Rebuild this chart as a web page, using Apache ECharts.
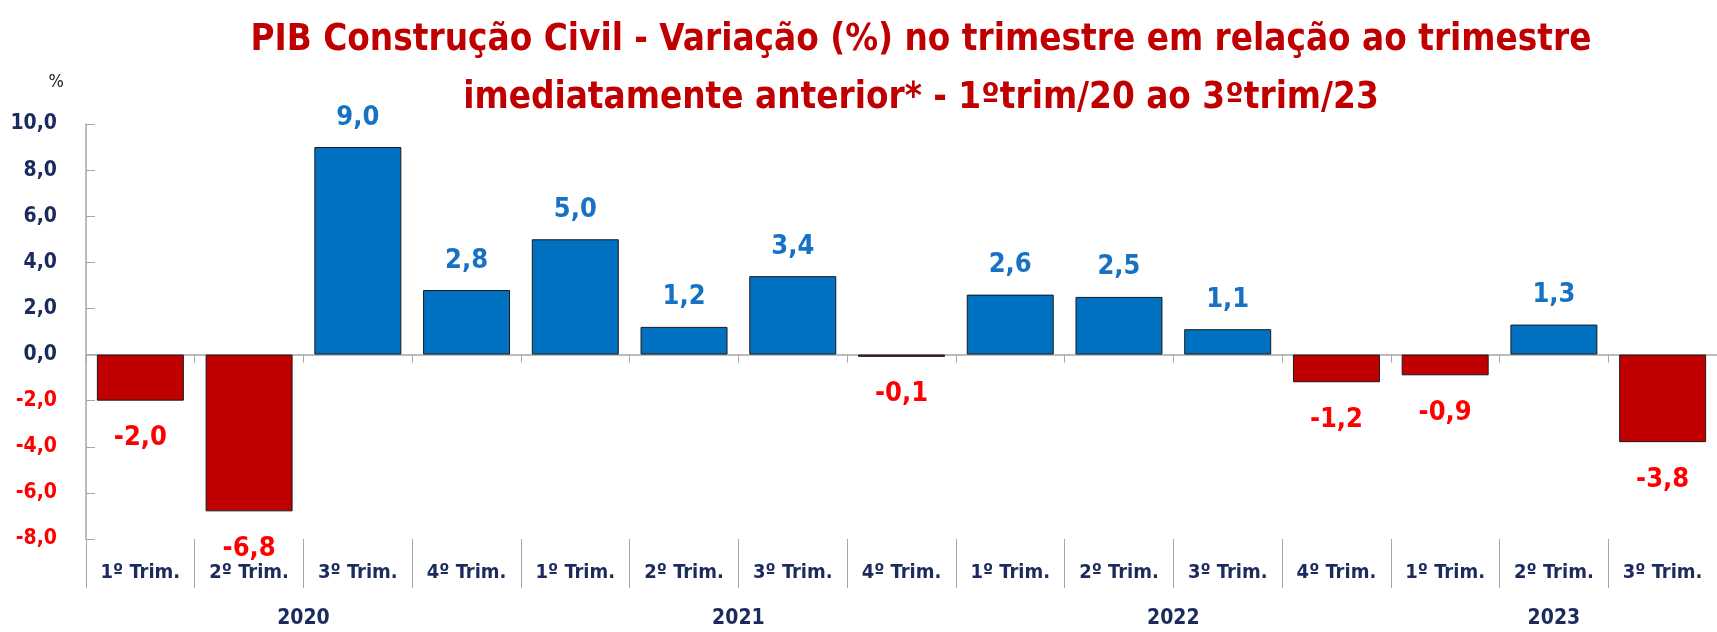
<!DOCTYPE html>
<html>
<head>
<meta charset="utf-8">
<script src="https://cdn.jsdelivr.net/npm/echarts@6/dist/echarts.min.js"></script>
<style>
  html, body { margin: 0; padding: 0; background: #fff; }
  #main { width: 1717px; height: 632px; }
</style>
</head>
<body>
<div id="main"></div>
<script>
// dados
const quarters = ['1º Trim.', '2º Trim.', '3º Trim.', '4º Trim.',
                  '1º Trim.', '2º Trim.', '3º Trim.', '4º Trim.',
                  '1º Trim.', '2º Trim.', '3º Trim.', '4º Trim.',
                  '1º Trim.', '2º Trim.', '3º Trim.'];
const values = [-2.0, -6.8, 9.0, 2.8, 5.0, 1.2, 3.4, -0.1, 2.6, 2.5, 1.1, -1.2, -0.9, 1.3, -3.8];
const years = ['2020', '2021', '2022', '2023'];
const yearSpans = [4, 4, 4, 3];
const titleText = 'PIB Construção Civil - Variação (%) no trimestre em relação ao trimestre\nimediatamente anterior* - 1ºtrim/20 ao 3ºtrim/23';

const FONT = "'Liberation Sans Narrow', 'DejaVu Sans Condensed', 'Arial Narrow', sans-serif";
const NAVY = '#1c2b5e';
const GRAY = '#a6a6a6';

// limites e centros dos anos
let yearStarts = [], yearCenters = [];
let acc = 0;
yearSpans.forEach(n => { yearStarts.push(acc); yearCenters.push(acc + n / 2); acc += n; });

const fmt = v => v.toFixed(1).replace('.', ',');

let chart = echarts.init(document.getElementById('main'));
let option = {
  animation: false,
  graphic: [
    {
      type: 'text', x: 921, y: 12, z: 10,
      style: {
        text: titleText, align: 'center', verticalAlign: 'top',
        fontFamily: FONT, fontWeight: 'bold', fontSize: 36.5, lineHeight: 58, fill: '#c00000'
      }
    }
  ],
  grid: [
    { left: 86, right: -11.5, top: 124, bottom: 93 },
    { left: 86, right: -11.5, top: 539, bottom: 0 }
  ],
  xAxis: [
    {
      type: 'category', gridIndex: 0, data: quarters, position: 'bottom',
      axisLine: { show: false, onZero: false },
      axisTick: { show: true, length: 49, lineStyle: { color: GRAY } },
      axisLabel: { interval: 0, margin: 24, fontFamily: FONT, fontWeight: 'bold', fontSize: 20, color: NAVY }
    },
    {
      // linha do zero
      type: 'category', gridIndex: 0, data: quarters, position: 'top',
      axisLine: { show: true, onZero: true, lineStyle: { color: GRAY, width: 1.5 } },
      axisTick: { show: true, inside: true, length: 8, lineStyle: { color: GRAY } },
      axisLabel: { show: false }
    },
    {
      // anos
      type: 'value', gridIndex: 1, min: 0, max: quarters.length, position: 'top',
      axisLine: { show: false },
      splitLine: { show: false },
      axisTick: { show: true, inside: true, length: 93, customValues: yearStarts, lineStyle: { color: GRAY } },
      axisLabel: {
        inside: true, margin: 69, customValues: yearCenters,
        fontFamily: FONT, fontWeight: 'bold', fontSize: 21, color: NAVY,
        formatter: v => years[yearCenters.indexOf(v)] || ''
      }
    }
  ],
  yAxis: [
    {
      type: 'value', gridIndex: 0, min: -8, max: 10, interval: 2,
      name: '%', nameLocation: 'end', nameGap: 33,
      nameTextStyle: { fontFamily: FONT, fontSize: 18, color: '#222', align: 'right', padding: [0, 22, 0, 0] },
      axisLine: { show: true, lineStyle: { color: GRAY, width: 1.5 } },
      axisTick: { show: true, inside: true, length: 9, lineStyle: { color: GRAY } },
      splitLine: { show: false },
      axisLabel: {
        margin: 29, fontFamily: FONT, fontWeight: 'bold', fontSize: 21,
        formatter: v => fmt(v),
        color: v => (Number(v) < 0 ? '#ff0000' : NAVY)
      }
    },
    { type: 'value', gridIndex: 1, show: false }
  ],
  series: [
    {
      type: 'bar',
      xAxisIndex: 0, yAxisIndex: 0,
      barCategoryGap: '20%',
      data: values.map(v => ({
        value: v,
        itemStyle: { color: v < 0 ? '#c00000' : '#0070c0' },
        label: {
          position: v < 0 ? 'bottom' : 'top',
          distance: v < 0 ? 24 : 16,
          color: v < 0 ? '#ff0000' : '#1872c4'
        }
      })),
      itemStyle: { borderColor: '#1a1a1a', borderWidth: 1 },
      label: {
        show: true, fontFamily: FONT, fontWeight: 'bold', fontSize: 27,
        formatter: p => fmt(p.value)
      }
    }
  ]
};
chart.setOption(option);
</script>
</body>
</html>
